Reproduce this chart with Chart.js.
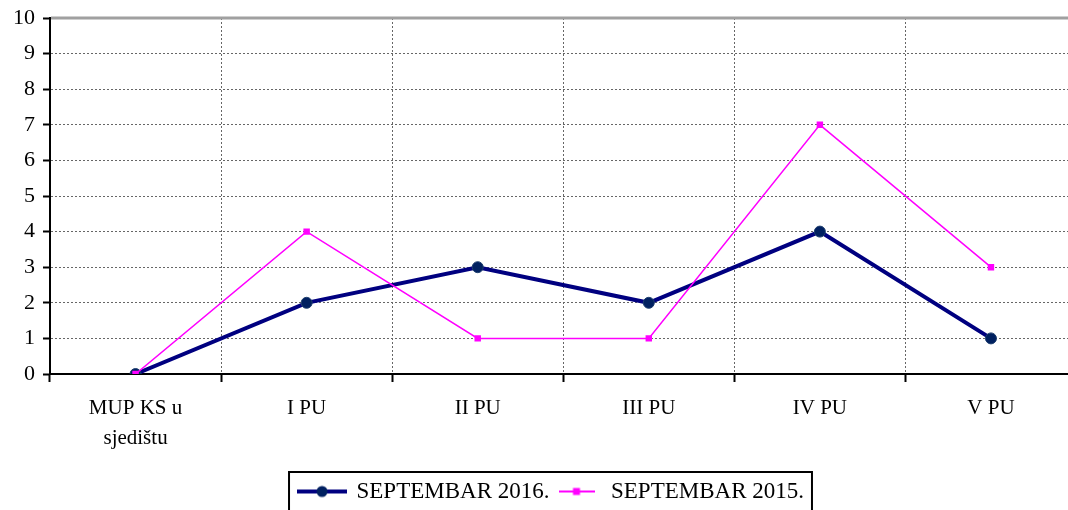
<!DOCTYPE html>
<html>
<head>
<meta charset="utf-8">
<script src="https://cdn.jsdelivr.net/npm/chart.js@4/dist/chart.umd.min.js"></script>
<style>
  html, body { margin: 0; padding: 0; background: #fff; overflow: hidden; }
  #wrap { position: relative; width: 1083px; height: 510px; }
</style>
</head>
<body>
<div id="wrap"><canvas id="lineChart"></canvas></div>
<script>
// podaci očitani sa grafikona
const kategorije = [['MUP KS u', 'sjedištu'], 'I PU', 'II PU', 'III PU', 'IV PU', 'V PU'];
const sep2016 = [0, 2, 3, 2, 4, 1];
const sep2015 = [0, 4, 1, 1, 7, 3];
const nazivi = ['SEPTEMBAR 2016.', 'SEPTEMBAR 2015.'];

const FONT = '"Liberation Serif", "DejaVu Serif", serif';

// mala slika linije sa markerom za legendu
function legendaIkona(boja, sirina, debljina, marker, vel) {
  const c = document.createElement('canvas');
  c.width = sirina; c.height = 16;
  const g = c.getContext('2d');
  g.strokeStyle = boja; g.lineWidth = debljina;
  g.beginPath(); g.moveTo(0, 8); g.lineTo(sirina, 8); g.stroke();
  g.fillStyle = boja;
  if (marker === 'circle') {
    g.fillStyle = '#002060';
    g.beginPath(); g.arc(sirina / 2, 8, vel, 0, Math.PI * 2); g.fill();
  } else {
    g.fillRect(sirina / 2 - vel, 8 - vel, vel * 2, vel * 2);
  }
  return c;
}

const ikona2016 = legendaIkona('#000080', 50, 4, 'circle', 5.5);
const ikona2015 = legendaIkona('#ff00ff', 36, 2, 'rect', 3.5);

// okvir oko legende + puna siva linija na vrhu
const okvirLegende = {
  id: 'okvirLegende',
  afterLayout(chart) {
    // legenda je u originalu malo niže i desnije
    const lg = chart.legend;
    lg.top += 3; lg.bottom += 3;
    lg.left += 12; lg.right += 12;
  },
  beforeDatasetsDraw(chart) {
    const a = chart.chartArea;
    const ctx = chart.ctx;
    ctx.save();
    ctx.strokeStyle = '#a0a0a0';
    ctx.lineWidth = 3;
    ctx.beginPath();
    ctx.moveTo(a.left + 1, a.top);
    ctx.lineTo(a.right, a.top);
    ctx.stroke();
    ctx.restore();
  },
  afterDraw(chart) {
    const lg = chart.legend;
    if (!lg || !lg.legendHitBoxes.length) return;
    const boxes = lg.legendHitBoxes;
    const l = Math.min(...boxes.map(b => b.left)) - 10;
    const r = Math.max(...boxes.map(b => b.left + b.width)) + 8;
    const t = Math.min(...boxes.map(b => b.top)) - 8;
    const ctx = chart.ctx;
    ctx.save();
    ctx.strokeStyle = '#000';
    ctx.lineWidth = 2;
    ctx.strokeRect(l, t, r - l, 60);
    ctx.restore();
  }
};

new Chart(document.getElementById('lineChart').getContext('2d'), {
  type: 'line',
  data: {
    labels: kategorije,
    datasets: [
      {
        label: nazivi[0],
        data: sep2016,
        borderColor: '#000080',
        borderWidth: 4,
        pointRadius: 5.5,
        pointBackgroundColor: '#002060',
        pointBorderColor: '#1f3f6f',
        pointBorderWidth: 1,
        pointStyle: 'circle',
        tension: 0,
        order: 1
      },
      {
        label: nazivi[1],
        data: sep2015,
        borderColor: '#ff00ff',
        borderWidth: 1.5,
        pointRadius: 3.5,
        pointBackgroundColor: '#ff00ff',
        pointBorderColor: '#ff00ff',
        pointStyle: 'rect',
        tension: 0,
        order: 0
      }
    ]
  },
  options: {
    responsive: true,
    maintainAspectRatio: false,
    animation: false,
    layout: { padding: { top: 18, right: 4, left: 0, bottom: 0 } },
    plugins: {
      tooltip: { enabled: false },
      legend: {
        position: 'bottom',
        labels: {
          color: '#000',
          font: { family: FONT, size: 23 },
          usePointStyle: true,
          pointStyleWidth: 46,
          padding: 4,
          sort: (a, b) => a.datasetIndex - b.datasetIndex,
          generateLabels(chart) {
            return chart.data.datasets.map((ds, i) => ({
              text: ds.label,
              datasetIndex: i,
              pointStyle: i === 0 ? ikona2016 : ikona2015,
              fontColor: '#000',
              lineWidth: 0,
              strokeStyle: 'transparent',
              fillStyle: 'transparent',
              hidden: false
            }));
          }
        }
      }
    },
    scales: {
      x: {
        offset: true,
        grid: {
          offset: true,
          color: '#666',
          lineWidth: 1,
          tickColor: '#000',
          tickLength: 8,
          tickWidth: 2
        },
        border: { color: '#000', width: 2, dash: [2, 2] },
        ticks: {
          color: '#000',
          font: { family: FONT, size: 21, lineHeight: 1.4 },
          padding: 12,
          maxRotation: 0,
          autoSkip: false
        },
        afterFit(scale) { scale.height = 99; }
      },
      y: {
        min: 0,
        max: 10,
        ticks: {
          stepSize: 1,
          color: '#000',
          font: { family: FONT, size: 22 },
          padding: 8
        },
        grid: {
          color: ctx => ctx.tick && ctx.tick.value === 10 ? 'rgba(0,0,0,0)' : '#666',
          lineWidth: 1,
          tickColor: '#000',
          tickLength: 7,
          tickWidth: 2
        },
        border: { color: '#000', width: 2, dash: [2, 2] },
        afterFit(scale) {
          scale.width = 50;
          scale.paddingTop = 0;
        }
      }
    }
  },
  plugins: [okvirLegende]
});
</script>
</body>
</html>
